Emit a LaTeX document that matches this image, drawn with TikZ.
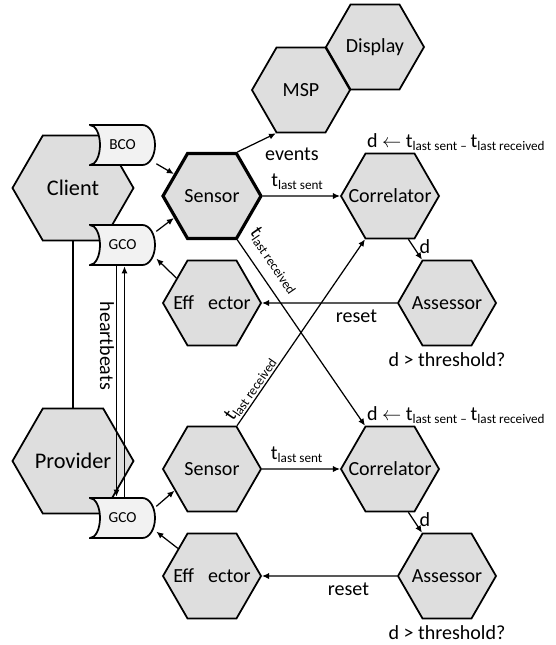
\documentclass[tikz,border=0pt]{standalone}
\usepackage{fontspec}
\setmainfont{Carlito}
\usetikzlibrary{shapes.geometric, arrows.meta}
\definecolor{hexgray}{HTML}{DEDEDE}
\definecolor{storegray}{HTML}{F2F2F2}
\newcommand{\tsub}[1]{t\textsubscript{\fontsize{7.5}{9}\selectfont #1}}
\tikzset{
    every node/.style={font=\fontsize{11.4}{13}\selectfont},
    hex/.style={regular polygon, regular polygon sides=6, draw, fill=hexgray,
        line width=1pt, inner sep=0pt, minimum size=1.96cm,
        execute at begin node=\hbox to 0pt\bgroup\hss,
        execute at end node=\hss\egroup},
    bighex/.style={hex, minimum size=2.42cm, font=\fontsize{12.7}{15}\selectfont},
    store/.style={rectangle, inner sep=0pt, minimum width=1.34cm,
        minimum height=0.84cm, font=\fontsize{8.7}{10}\selectfont,
        path picture={
            \draw[line width=1pt, fill=storegray]
                (path picture bounding box.center) ++(-0.65cm,0.4cm)
                -- ++(1.05cm,0)
                arc[start angle=90, end angle=-90, x radius=0.25cm, y radius=0.4cm]
                -- ++(-1.05cm,0)
                arc[start angle=-90, end angle=90, x radius=0.2cm, y radius=0.4cm]
                -- cycle;
        }},
    conn/.style={line width=0.7pt, -{Latex[length=4pt,width=3.5pt]}}
}

\begin{document}
\begin{tikzpicture}
	\useasboundingbox (0,0) rectangle (11.1cm,-12.9cm);

	\node (client) [bighex] at (1.46cm, -3.76cm) {Client};
	\node (provider) [bighex] at (1.46cm, -9.22cm) {Provider};
	\node (msp) [hex] at (6.02cm, -1.8cm) {MSP};
	\node (display) [hex] at (7.5cm, -0.94cm) {Display};

	\node (sensor1) [hex, line width=1.8pt] at (4.24cm, -3.92cm) {Sensor};
	\node (effector1) [hex] at (4.24cm, -6.06cm) {Eff\hspace{0.7em}ector};
	\node (correlator1) [hex, label={[name=dlabel1, anchor=south west, inner sep=1pt]120:{d $\leftarrow$ \tsub{last sent – }\tsub{last received}}}] at (7.8cm, -3.92cm) {Correlator};
	\node (assessor1) [hex, label={[name=thresh1]below:{d > threshold?}}] at (8.94cm, -6.06cm) {Assessor};

	\node (sensor2) [hex] at (4.24cm, -9.38cm) {Sensor};
	\node (effector2) [hex] at (4.24cm, -11.52cm) {Eff\hspace{0.7em}ector};
	\node (correlator2) [hex, label={[name=dlabel2, anchor=south west, inner sep=1pt]120:{d $\leftarrow$ \tsub{last sent – }\tsub{last received}}}] at (7.8cm, -9.38cm) {Correlator};
	\node (assessor2) [hex, label={[name=thresh2]below:{d > threshold?}}] at (8.94cm, -11.52cm) {Assessor};

	\node (bco) [store] at (2.45cm, -2.9cm) {BCO};
	\node (gco1) [store] at (2.45cm, -4.9cm) {GCO};
	\node (gco2) [store] at (2.45cm, -10.36cm) {GCO};

	\draw [line width=0.7pt] (client) -- (provider);
	\draw [conn] (bco.-29) -- (sensor1.150);
	\draw [conn] (gco1.22) -- (sensor1.210);
	\draw [conn] (effector1.145) -- (gco1.-22);
	\draw [conn] (sensor1.60) -- node (events) [below right, pos=0.55] {events} (msp.-120);
	\draw [conn] (sensor1) -- node (tsent1) [above, pos=0.45] {\tsub{last sent}} (correlator1);
	\draw [conn] (correlator1.-67) -- node (d1) [right, pos=0.35] {d} (assessor1.120);
	\draw [conn] (assessor1) -- node (reset1) [below, pos=0.3] {reset} (effector1);

	\draw [conn] ([xshift=-0.12cm]gco1.south) -- node (hb) [below, rotate=-90, pos=0.345, inner sep=1pt] {heartbeats} ([xshift=-0.12cm]gco2.north);
	\draw [conn] ([xshift=0.04cm]gco2.north) -- ([xshift=0.04cm]gco1.south);

	\draw [conn] (sensor1.-60) -- node (trecv1) [above=5pt, sloped, pos=0.17, inner sep=1pt] {\tsub{last received}} (correlator2.120);
	\draw [conn] (sensor2.60) -- node (trecv2) [above, sloped, pos=0.17, inner sep=1pt] {\tsub{last received}} (correlator1.-120);

	\draw [conn] (gco2.19) -- (sensor2.210);
	\draw [conn] (effector2.141) -- (gco2.-22);
	\draw [conn] (sensor2) -- node (tsent2) [above, pos=0.45] {\tsub{last sent}} (correlator2);
	\draw [conn] (correlator2.-67) -- node (d2) [right, pos=0.35] {d} (assessor2.120);
	\draw [conn] (assessor2) -- node (reset2) [below, pos=0.36] {reset} (effector2);
\end{tikzpicture}
\end{document}
